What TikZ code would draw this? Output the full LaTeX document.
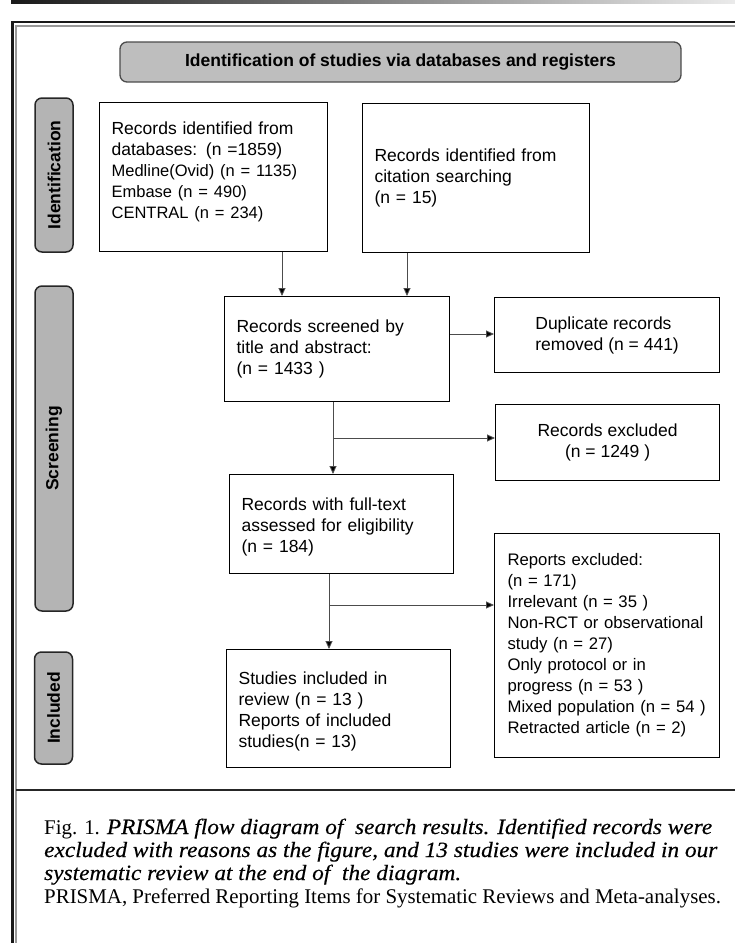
\documentclass[tikz,border=0pt]{standalone}
\usepackage{fontspec}
\setmainfont{Liberation Sans}
\newfontfamily\capserif{Liberation Serif}
\newfontface\capital{Liberation Serif Italic}[FakeBold=0.35,FakeStretch=1.07]
\usetikzlibrary{arrows.meta,calc}
\definecolor{labgrey}{HTML}{B4B4B4}
\definecolor{headgrey}{HTML}{BEBEBE}
\begin{document}
\begin{tikzpicture}[x=1pt,y=-1pt,
  fbox/.style={draw=black, line width=1.2pt, inner xsep=12pt, inner ysep=0pt,
    anchor=north west, align=left, font=\fontsize{17.5}{21}\selectfont},
  cbox/.style={draw=black, line width=1.2pt, inner sep=0pt,
    anchor=north west, font=\fontsize{17.5}{21}\selectfont},
  stagelab/.style={draw=black!85, line width=1.5pt, fill=labgrey, rounded corners=7pt,
    rotate=90, inner sep=0pt, minimum height=38pt, font=\bfseries\fontsize{17.5}{21}\selectfont},
  headbox/.style={draw=black!70, line width=1.3pt, fill=headgrey, rounded corners=7pt,
    inner sep=0pt, minimum width=561pt, minimum height=40pt,
    font=\bfseries\fontsize{17.5}{21}\selectfont},
  conn/.style={draw=black!70, line width=0.9pt,
    -{Triangle[length=8pt,width=7pt,fill=black]}},
  capline/.style={anchor=base west, inner sep=0pt, font=\capserif\fontsize{20.9}{23}\selectfont},
  capit/.style={font=\capital\fontsize{21.8}{23}\selectfont}
]
\useasboundingbox (0,0) rectangle (735,943);
% top band and frame
\shade[left color=black!90, right color=black!8] (11,0) rectangle (735,3.5);
\draw[line width=2.6pt, black!90] (12.5,943) -- (12.5,22) -- (735,22);
\draw[line width=1.4pt, black!40] (16,943) -- (16,25.8) -- (735,25.8);
\draw[line width=1.3pt, black!85] (16,790) -- (735,790);

% header
\node[headbox] (head) at (400.5,62) {Identification of studies via databases and registers};

% stage labels
\node[stagelab, minimum width=154pt] (lid) at (54,175) {Identification};
\node[stagelab, minimum width=325pt] (lsc) at (54,448.5) {Screening};
\node[stagelab, minimum width=112pt] (lin) at (53.5,708) {Included};

% boxes
\node[fbox, minimum width=228pt, minimum height=149pt, text width=204pt] (db) at (99,102)
 {Records identified from\\databases: (n =1859)\\
  {\fontsize{16.5}{21}\selectfont Medline(Ovid) (n = 1135)}\\
  {\fontsize{16.5}{21}\selectfont Embase (n = 490)}\\
  {\fontsize{16.5}{21}\selectfont CENTRAL (n = 234)\rule[-14pt]{0pt}{1pt}}};
\node[fbox, minimum width=227pt, minimum height=149pt, text width=203pt] (cit) at (362,103)
 {Records identified from\\citation searching\\(n = 15)};
\node[fbox, minimum width=225pt, minimum height=105pt, text width=201pt] (scr) at (224,296)
 {Records screened by\\title and abstract:\\(n = 1433 )};
\node[cbox, minimum width=225pt, minimum height=75pt, align=left] (dup) at (494,297)
 {Duplicate records\\removed (n = 441)};
\node[cbox, minimum width=224pt, minimum height=76pt, align=center] (exc) at (495,404)
 {Records excluded\\(n = 1249 )};
\node[fbox, minimum width=224pt, minimum height=99pt, text width=200pt] (ft) at (229,474)
 {\rule{0pt}{19pt}Records with full-text\\assessed for eligibility\\(n = 184)};
\node[fbox, inner xsep=13pt, minimum width=225pt, minimum height=224pt, text width=199pt,
  font=\fontsize{16.7}{21}\selectfont] (rep) at (494,533)
 {Reports excluded:\\(n = 171)\\Irrelevant (n = 35 )\\Non-RCT or observational\\study (n = 27)\\Only protocol or in\\progress (n = 53 )\\Mixed population (n = 54 )\\Retracted article (n = 2)};
\node[fbox, minimum width=224pt, minimum height=118pt, text width=200pt] (inc) at (226,649)
 {\rule{0pt}{18pt}Studies included in\\review (n = 13 )\\Reports of included\\studies(n = 13)};

% connector guide coordinates
\coordinate (xa) at (282,0);
\coordinate (xb) at (407,0);
\coordinate (xc) at (333,0);
\coordinate (xd) at (329,0);
\coordinate (ya) at (0,334);
\coordinate (yb) at (0,438);
\coordinate (yc) at (0,605);

\draw[conn] (db.south -| xa) -- (scr.north -| xa);
\draw[conn] (cit.south -| xb) -- (scr.north -| xb);
\draw[conn] (scr.east |- ya) -- (dup.west |- ya);
\draw[conn] (scr.south -| xc) -- (ft.north -| xc);
\draw[conn] (xc |- yb) -- (exc.west |- yb);
\draw[conn] (ft.south -| xd) -- (inc.north -| xd);
\draw[conn] (xd |- yc) -- (rep.west |- yc);

% caption
\node[capline] (cap1) at (44,834) {Fig. 1. {\capital\fontsize{21.8}{23}\selectfont PRISMA flow diagram of\ \ search results. Identified records were}};
\node[capline, capit] (cap2) at (44,857) {excluded with reasons as the figure, and 13 studies were included in our};
\node[capline, capit] (cap3) at (44,880) {systematic review at the end of\ \ the diagram.};
\node[capline] (cap4) at (44,903) {PRISMA, Preferred Reporting Items for Systematic Reviews and Meta-analyses.};
\end{tikzpicture}
\end{document}
